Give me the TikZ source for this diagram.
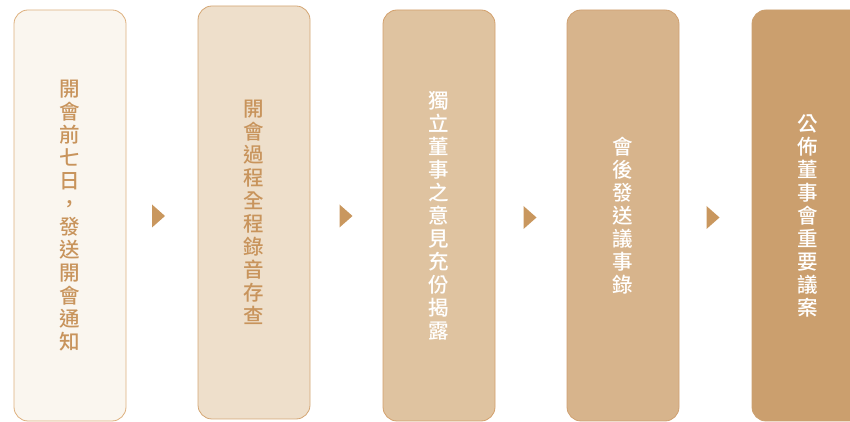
\documentclass[tikz,border=0pt]{standalone}
\usepackage{fontspec}
\newfontfamily\cjk{Noto Sans CJK TC}[UprightFont=* Medium]
\usetikzlibrary{calc}
\definecolor{fillA}{HTML}{FAF6EF}
\definecolor{fillB}{HTML}{EEDFCB}
\definecolor{fillC}{HTML}{DFC3A0}
\definecolor{fillD}{HTML}{D7B48C}
\definecolor{fillE}{HTML}{CB9F6E}
\definecolor{lineA}{HTML}{DDB07E}
\definecolor{lineB}{HTML}{D4A674}
\definecolor{lineC}{HTML}{D3A06C}
\definecolor{lineD}{HTML}{CFA070}
\definecolor{txtdark}{HTML}{C8945C}
\definecolor{arrowc}{HTML}{C9975E}
\tikzset{
  stepbox/.style={rectangle, rounded corners=14pt, minimum width=112pt,
    minimum height=411pt, inner sep=0pt, align=center, line width=0.8pt,
    font=\cjk\fontsize{20.5}{23}\selectfont},
  chevron/.style={fill=arrowc}
}
\begin{document}
\begin{tikzpicture}[x=1pt,y=1pt]
\useasboundingbox (0,0) rectangle (850,422);
\node[stepbox, fill=fillA, draw=lineA, text=txtdark] (b1) at (70,206.5)
  {開\\會\\前\\七\\日\\，\\發\\送\\開\\會\\通\\知};
\node[stepbox, fill=fillB, draw=lineB, text=txtdark, minimum height=413pt] (b2) at (254,209.5)
  {開\\會\\過\\程\\全\\程\\錄\\音\\存\\查};
\node[stepbox, fill=fillC, draw=lineC, text=white] (b3) at (439,206.5)
  {獨\\立\\董\\事\\之\\意\\見\\充\\份\\揭\\露};
\node[stepbox, fill=fillD, draw=lineD, text=white] (b4) at (623,206.5)
  {會\\後\\發\\送\\議\\事\\錄};
\node[stepbox, fill=fillE, draw=fillE, text=white] (b5) at (808,206.5)
  {公\\佈\\董\\事\\會\\重\\要\\議\\案};
\foreach \a/\b/\s in {b1/b2/-10, b2/b3/-7, b3/b4/-7.5, b4/b5/-9}{
  \coordinate (m) at ($(\a.east)!0.5!(\b.west)$);
  \fill[chevron] ($(m)+(\s,9.5)$) -- ($(m)+(\s+13,-2)$) -- ($(m)+(\s,-13.5)$) -- cycle;
}
\end{tikzpicture}
\end{document}
